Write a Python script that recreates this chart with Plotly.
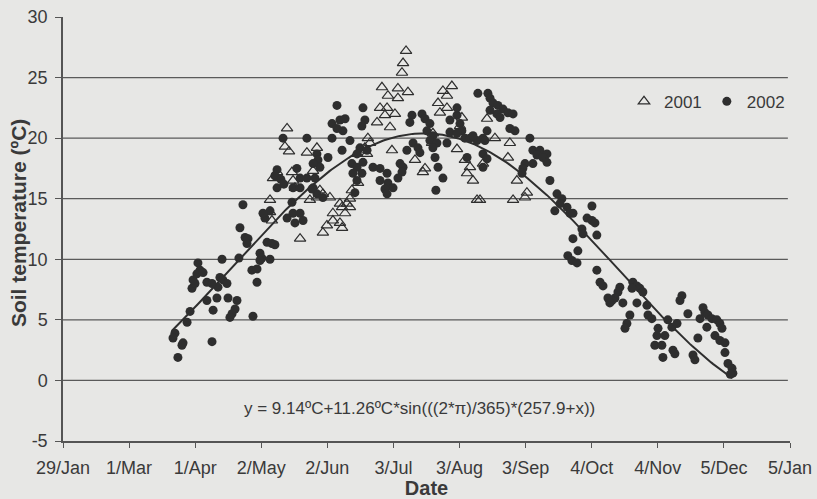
import math
import plotly.graph_objects as go

# ---------------- data ----------------
tick_days = [29, 60, 91, 122, 153, 184, 215, 246, 277, 308, 339, 370]
tick_labels = ["29/Jan", "1/Mar", "1/Apr", "2/May", "2/Jun", "3/Jul",
               "3/Aug", "3/Sep", "4/Oct", "4/Nov", "5/Dec", "5/Jan"]
y_ticks = [-5, 0, 5, 10, 15, 20, 25, 30]
y_tick_labels = ["-5", "0", "5", "10", "15", "20", "25", "30"]
grid_values = [0, 5, 10, 15, 20, 25]

# 2001 observations (day of year, soil temperature degC)
days_2001 = [134.1, 133.1, 135.0, 143.4, 148.1, 129.4, 127.5, 136.4, 136.9, 146.3,
             137.8, 148.1, 150.9, 154.2, 158.9, 162.2, 163.6, 144.8, 164.5, 166.9,
             126.1, 126.1, 127.0, 140.2, 150.9, 152.8, 155.6, 158.9, 161.3, 155.6,
             159.9, 159.9, 149.5, 189.9, 188.5, 188.0, 178.6, 181.4, 186.1, 190.8,
             186.1, 177.7, 181.0, 184.7, 180.0, 176.3, 182.4, 172.0, 173.0, 170.6,
             168.3, 171.6, 183.3, 194.1, 197.8, 198.8, 167.4, 163.6, 207.2, 211.4,
             209.1, 204.9, 205.8, 209.1, 216.1, 215.2, 202.5, 202.1, 213.8, 217.5,
             219.9, 218.5, 221.3, 223.2, 224.6, 227.9, 231.6, 226.0, 240.1, 245.7,
             246.6, 238.6, 237.7, 241.9]
temps_2001 = [20.8, 19.3, 18.9, 18.8, 19.2, 17.2, 16.7, 17.2, 16.5, 17.3,
              15.9, 15.1, 15.4, 15.1, 14.6, 14.6, 15.0, 14.9, 15.7, 18.7,
              14.9, 13.9, 13.2, 11.7, 12.2, 12.8, 13.2, 13.0, 13.8, 13.8,
              14.3, 12.6, 15.7, 27.2, 26.2, 25.4, 24.2, 23.5, 24.1, 23.8,
              23.3, 22.5, 22.5, 22.0, 21.9, 21.3, 20.9, 20.0, 19.6, 19.2,
              19.0, 18.7, 19.0, 18.2, 17.2, 17.5, 16.3, 14.3, 23.9, 24.3,
              23.5, 22.9, 22.1, 22.5, 21.7, 21.0, 20.4, 19.6, 19.1, 18.2,
              17.6, 17.1, 16.5, 14.9, 14.9, 21.6, 20.0, 17.9, 14.9, 15.1,
              15.5, 19.6, 18.4, 16.5]

# 2002 observations (day of year, soil temperature degC)
days_2002 = [82.9, 81.5, 80.6, 85.3, 84.8, 87.2, 88.6, 98.9, 99.4, 96.5,
             101.2, 101.7, 102.6, 104.0, 105.9, 106.4, 110.6, 109.7, 108.3, 107.3,
             118.1, 96.5, 98.9, 89.5, 90.9, 90.0, 93.3, 91.8, 94.7, 92.3,
             103.6, 111.5, 117.6, 120.0, 120.0, 121.4, 122.3, 121.4, 126.1, 124.7,
             127.0, 128.4, 114.4, 115.8, 115.3, 112.0, 113.4, 123.7, 126.1, 136.4,
             136.9, 140.2, 137.8, 141.6, 122.8, 134.1,
             132.2, 129.4, 128.4, 131.2, 129.4, 132.6, 138.7, 140.2, 143.4, 143.4,
             148.1, 148.6, 149.5, 146.3, 147.2, 136.9, 140.2, 145.8, 155.2, 158.9,
             161.3, 157.5, 160.3, 157.5, 155.2, 159.9, 153.3, 164.5, 166.9, 165.0,
             169.2, 166.9, 148.1, 150.9, 146.3,
             169.7, 170.6, 169.2, 168.3, 163.6, 166.9, 171.6, 169.7, 174.4, 177.7,
             181.0, 177.7, 181.4, 183.8, 180.0, 181.0, 165.9, 187.1, 188.5, 188.0,
             186.1, 190.3, 192.7, 191.7, 197.4, 198.8, 201.1, 199.7, 202.5, 201.1,
             204.4, 202.5, 193.2, 195.5, 196.4, 203.5, 204.9, 207.2, 203.9, 209.1,
             210.5, 213.8, 213.8, 215.2, 216.1, 210.5, 213.8, 217.5, 219.9, 223.2,
             221.3, 226.0, 227.9, 226.9, 223.6, 228.3, 229.3, 230.7, 233.0, 235.4,
             237.7, 240.1, 232.5, 234.0, 229.3, 238.6, 241.0, 248.0, 249.4, 252.7,
             256.0, 251.3, 254.1, 249.4, 256.0, 245.7, 244.7, 244.3, 226.0, 227.9,
             226.0, 218.5, 257.4,
             260.7, 263.0, 265.4, 266.8, 259.7, 262.1, 268.2, 277.1, 274.8, 277.1,
             278.5, 272.4, 272.9, 279.4, 268.2, 270.5, 265.8, 267.7, 270.1, 279.4,
             280.9, 282.3, 290.2, 289.3, 287.9, 286.5, 284.6, 285.5, 291.6, 294.9,
             293.5, 292.6, 296.3, 298.2, 299.6, 301.0, 295.9, 298.2, 302.9, 303.4,
             305.2, 308.1, 307.6, 311.3, 306.6, 309.9, 310.4, 312.7, 314.6, 317.0,
             315.1, 316.0, 319.3, 318.4, 322.1, 324.5, 325.4, 326.8, 327.8, 329.2,
             330.1, 331.5, 333.4, 331.0, 335.7, 337.1, 338.1, 334.8, 337.1, 339.5,
             339.5, 340.9, 342.8, 343.2, 342.0]
temps_2002 = [1.9, 3.9, 3.5, 3.1, 2.9, 4.8, 5.7, 3.2, 5.8, 6.6,
              6.8, 7.7, 8.5, 8.3, 8.0, 6.8, 6.6, 5.9, 5.5, 5.2,
              5.3, 8.1, 8.0, 7.6, 8.0, 8.3, 9.1, 8.8, 8.9, 9.7,
              10.0, 10.1, 9.1, 9.2, 8.1, 10.5, 10.1, 9.9, 10.0, 11.4,
              11.3, 11.2, 11.8, 11.7, 11.3, 12.6, 14.5, 13.4, 14.0, 14.7,
              13.8, 13.8, 13.0, 13.2, 13.8, 13.4,
              20.0, 17.4, 16.9, 16.6, 15.9, 16.2, 17.5, 16.7, 16.7, 20.0,
              18.7, 18.2, 17.6, 17.9, 16.7, 15.9, 15.9, 15.8, 21.2, 21.5,
              21.6, 20.8, 20.6, 22.7, 20.0, 19.0, 18.4, 17.9, 17.6, 17.1,
              17.1, 16.5, 15.4, 15.1, 15.9,
              22.5, 21.5, 21.0, 19.2, 19.8, 18.7, 19.0, 18.0, 17.6, 17.5,
              17.1, 16.5, 16.3, 15.9, 15.8, 15.4, 15.5, 17.9, 17.6, 17.2,
              16.7, 19.0, 21.9, 21.3, 22.0, 21.6, 21.2, 20.6, 20.2, 19.8,
              19.6, 19.2, 19.6, 19.2, 18.8, 18.4, 17.6, 16.7, 15.7, 19.6,
              21.5, 21.9, 22.5, 21.2, 20.6, 20.5, 20.4, 20.0, 20.0, 19.8,
              20.2, 20.0, 20.6, 19.8, 23.7, 23.7, 23.3, 22.9, 22.7, 22.4,
              22.1, 22.0, 22.0, 21.7, 22.3, 20.8, 20.6, 20.0, 19.0, 19.0,
              18.7, 18.6, 18.4, 17.9, 18.0, 17.9, 17.5, 17.1, 18.7, 18.3,
              17.6, 18.4, 16.5,
              15.4, 15.0, 14.3, 13.8, 14.0, 14.6, 13.8, 14.4, 13.4, 13.2,
              13.0, 12.5, 12.1, 12.0, 11.7, 10.7, 10.3, 9.9, 9.7, 9.1,
              8.1, 7.8, 7.7, 7.3, 6.8, 6.6, 6.8, 6.4, 6.4, 5.4,
              4.7, 4.3, 8.1, 7.8, 7.6, 7.3, 7.6, 6.4, 6.2, 5.4,
              5.1, 4.3, 3.7, 3.7, 2.9, 2.9, 1.9, 5.0, 4.4, 4.7,
              2.5, 2.2, 7.0, 6.6, 5.5, 2.1, 1.7, 3.5, 5.1, 6.0,
              5.6, 5.4, 5.1, 4.4, 5.0, 4.7, 4.3, 3.7, 3.3, 3.1,
              2.3, 1.4, 1.0, 0.6, 0.5]

# fitted sine model (parameters from the equation on the chart)
fit_mean = 9.14
fit_amp = 11.26
fit_phase = 257.9
fit_period = 365
fit_start_day = 80
fit_end_day = 343

fit_days = list(range(fit_start_day, fit_end_day + 1))
fit_temps = [fit_mean + fit_amp * math.sin((2 * math.pi / fit_period) * (fit_phase + d))
             for d in fit_days]

equation_text = "y = 9.14ºC+11.26ºC*sin(((2*π)/365)*(257.9+x))"
y_title_text = "<b>Soil temperature (ºC)</b>"

# ---------------- style ----------------
BG = "#e7e7e5"
INK = "#3a3a3a"
MARK = "#2e2e2e"
FONT = "Liberation Sans, Arial, Helvetica, sans-serif"

fig = go.Figure()

fig.add_trace(go.Scatter(
    x=fit_days, y=fit_temps, mode="lines",
    line=dict(color=MARK, width=2), showlegend=False, hoverinfo="skip"))

fig.add_trace(go.Scatter(
    x=days_2001, y=temps_2001, mode="markers", name="2001",
    marker=dict(symbol="triangle-up-open", size=10, color=MARK,
                line=dict(color=MARK, width=1.2))))

fig.add_trace(go.Scatter(
    x=days_2002, y=temps_2002, mode="markers", name="2002",
    marker=dict(symbol="circle", size=9, color=MARK,
                line=dict(color=MARK, width=0))))

shapes = []
for g in grid_values:
    shapes.append(dict(type="line", xref="x", yref="y", x0=tick_days[0], x1=tick_days[-1] - 1,
                       y0=g, y1=g, line=dict(color="#5a5a5a", width=1.3), layer="below"))

fig.update_layout(
    width=817, height=499,
    margin=dict(l=63, r=27, t=17, b=58),
    paper_bgcolor=BG, plot_bgcolor=BG,
    font=dict(family=FONT, size=18, color=INK),
    shapes=shapes,
    legend=dict(orientation="h", x=1.0, xanchor="right", y=0.80, yanchor="middle",
                bgcolor="rgba(0,0,0,0)", font=dict(size=17, color=INK),
                itemwidth=30, tracegroupgap=0),
    annotations=[
        dict(text=equation_text, x=0.491, y=-2.3, xref="paper", yref="y",
             showarrow=False, font=dict(size=17, color=INK),
             xanchor="center", yanchor="middle"),
        dict(text=y_title_text, x=0, y=0.514, xref="paper", yref="paper",
             xshift=-45, textangle=-90, showarrow=False,
             font=dict(size=21, color=INK), xanchor="center", yanchor="middle"),
    ],
)

fig.update_xaxes(
    range=[tick_days[0], tick_days[-1]],
    tickmode="array", tickvals=tick_days, ticktext=tick_labels,
    showgrid=False, zeroline=False,
    showline=True, linecolor="#555555", linewidth=1.5,
    ticks="outside", ticklen=5, tickcolor="#555555", tickwidth=1.2,
    ticklabelstandoff=5, ticklabeloverflow="allow",
    title=dict(text="<b>Date</b>", font=dict(size=20, color=INK), standoff=2),
    automargin=False,
)

fig.update_yaxes(
    range=[-5, 30], tickmode="array", tickvals=y_ticks, ticktext=y_tick_labels,
    showgrid=False, zeroline=False,
    showline=True, linecolor="#555555", linewidth=1.5,
    ticks="outside", ticklen=6, tickcolor="#555555", tickwidth=1.2,
    ticklabelstandoff=4, ticklabeloverflow="allow",
    automargin=False,
)

page_style = ("document.body.style.margin='0';"
              "document.body.style.background='" + BG + "';")

fig.write_html("out.html", post_script=page_style, config={"displayModeBar": False})
